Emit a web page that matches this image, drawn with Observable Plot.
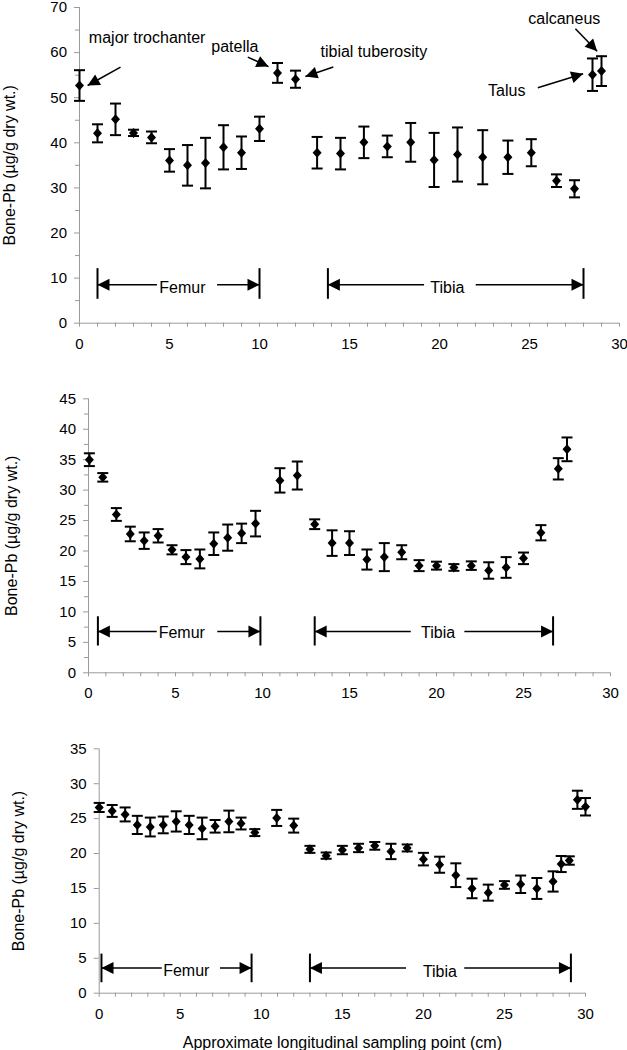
<!DOCTYPE html>
<html><head><meta charset="utf-8">
<script src="https://cdn.jsdelivr.net/npm/d3@7"></script>
<script src="https://cdn.jsdelivr.net/npm/@observablehq/plot@0.6"></script>
<style>
body{margin:0;background:#fff}
#chart svg{display:block}
</style>
</head><body><div id="chart"></div>
<script>
// ---------- data ----------
// Panel 1
const p1x = [0, 1, 2, 3, 4, 5, 6, 7, 8, 9, 10, 11, 12, 13.2, 14.5, 15.8, 17.1, 18.4, 19.7, 21.0, 22.4, 23.8, 25.1, 26.5, 27.5, 28.5, 29.0];
const p1y = [52.7, 42.1, 45.2, 42.2, 41.2, 36.1, 35.0, 35.5, 39.0, 37.8, 43.1, 55.5, 54.1, 37.8, 37.6, 40.1, 39.2, 40.1, 36.2, 37.4, 36.8, 36.8, 37.8, 31.6, 29.8, 55.1, 55.9];
const p1e = [3.4, 2.0, 3.5, 0.7, 1.3, 2.5, 4.5, 5.6, 4.9, 3.6, 2.7, 2.2, 1.9, 3.5, 3.5, 3.5, 2.4, 4.3, 6.0, 6.0, 6.0, 3.7, 3.0, 1.4, 1.9, 3.6, 3.3];
// Panel 2
const p2x = [0.05, 0.82, 1.6, 2.4, 3.2, 4.0, 4.8, 5.6, 6.4, 7.2, 8.0, 8.8, 9.6, 11.0, 12.0, 13.0, 14.0, 15.0, 16.0, 17.0, 18.0, 19.0, 20.0, 21.0, 22.0, 23.0, 24.0, 25.0, 26.0, 27.0, 27.5];
const p2y = [35.0, 32.1, 26.0, 22.8, 21.7, 22.5, 20.2, 19.0, 18.7, 21.2, 22.2, 22.9, 24.5, 31.6, 32.4, 24.4, 21.3, 21.3, 18.6, 19.0, 19.8, 17.6, 17.6, 17.3, 17.6, 16.8, 17.3, 18.8, 23.0, 33.5, 36.7];
const p2e = [1.05, 0.7, 1.05, 1.2, 1.35, 1.1, 0.75, 1.15, 1.55, 1.85, 2.15, 1.6, 2.1, 2.0, 2.3, 0.8, 2.1, 1.95, 1.65, 2.3, 1.15, 0.9, 0.65, 0.55, 0.7, 1.35, 1.7, 0.95, 1.25, 1.75, 1.95];
// Panel 3
const p3x = [0, 0.8, 1.6, 2.35, 3.15, 3.95, 4.75, 5.55, 6.35, 7.15, 8.0, 8.75, 9.6, 10.95, 12.0, 13.0, 14.0, 15.0, 16.0, 17.0, 18.0, 19.0, 20.0, 21.0, 22.0, 23.0, 24.0, 25.0, 26.0, 27.0, 28.0, 28.5, 29.0, 29.5, 30.0];
const p3y = [26.6, 26.1, 25.6, 24.1, 23.8, 24.1, 24.6, 24.1, 23.6, 23.9, 24.6, 24.3, 23.0, 25.1, 24.0, 20.6, 19.7, 20.5, 20.8, 21.1, 20.3, 20.8, 19.2, 18.4, 16.9, 15.0, 14.4, 15.5, 15.6, 15.0, 16.0, 18.5, 19.0, 27.7, 26.7];
const p3e = [0.65, 0.85, 1.0, 1.3, 1.35, 1.2, 1.45, 1.3, 1.55, 0.9, 1.55, 0.85, 0.5, 1.15, 1.0, 0.5, 0.45, 0.6, 0.6, 0.55, 1.1, 0.5, 0.9, 1.15, 1.7, 1.4, 1.15, 0.55, 1.25, 1.5, 1.45, 1.15, 0.6, 1.3, 1.25];

// ticks
const xMajor = [0, 5, 10, 15, 20, 25, 30];
const xMinor = [1,2,3,4,6,7,8,9,11,12,13,14,16,17,18,19,21,22,23,24,26,27,28,29];
const y1Major = [0, 10, 20, 30, 40, 50, 60, 70];
const y1Minor = [5, 15, 25, 35, 45, 55, 65];
const y2Major = [0, 5, 10, 15, 20, 25, 30, 35, 40, 45];
const y2Minor = [2.5, 7.5, 12.5, 17.5, 22.5, 27.5, 32.5, 37.5, 42.5];
const y3Major = [0, 5, 10, 15, 20, 25, 30, 35];

// texts
const yTitle = "Bone-Pb (µg/g dry wt.)";
const xTitle = "Approximate longitudinal sampling point (cm)";

// bone spans: start, end, arrow level, bar bottom/top, label, label pos, gap edges
const spans1 = [
  {x1: 1.0, x2: 10.0, y: 8.5, b1: 5.3, b2: 12.1, label: "Femur", lx: 5.72, ly: 7.8, g1: 4.33, g2: 7.67},
  {x1: 13.8, x2: 28.0, y: 8.5, b1: 5.3, b2: 12.1, label: "Tibia", lx: 20.44, ly: 7.8, g1: 19.17, g2: 22.04}
];
const spans2 = [
  {x1: 0.54, x2: 9.88, y: 6.8, b1: 4.4, b2: 9.2, label: "Femur", lx: 5.36, ly: 6.5, g1: 3.95, g2: 7.43},
  {x1: 13.0, x2: 26.7, y: 6.8, b1: 4.4, b2: 9.2, label: "Tibia", lx: 20.09, ly: 6.5, g1: 18.55, g2: 21.63}
];
const spans3 = [
  {x1: 0.14, x2: 9.4, y: 3.6, b1: 1.5, b2: 5.6, label: "Femur", lx: 5.37, ly: 3.2, g1: 3.89, g2: 7.48},
  {x1: 13.0, x2: 29.1, y: 3.6, b1: 1.5, b2: 5.6, label: "Tibia", lx: 21.02, ly: 3.1, g1: 18.96, g2: 22.55}
];
// panel 1 annotations
const notes1 = [
  {text: "major trochanter", x: 0.52, y: 63.2},
  {text: "patella", x: 7.32, y: 61.2},
  {text: "tibial tuberosity", x: 13.39, y: 60.1},
  {text: "calcaneus", x: 24.93, y: 67.4},
  {text: "Talus", x: 22.7, y: 51.6}
];
const arrows1 = [
  {x1: 2.28, y1: 56.8, x2: 0.45, y2: 52.7},
  {x1: 9.35, y1: 59.0, x2: 10.5, y2: 56.9},
  {x1: 14.1, y1: 56.8, x2: 12.55, y2: 54.7},
  {x1: 27.55, y1: 65.3, x2: 28.76, y2: 60.3},
  {x1: 25.46, y1: 52.2, x2: 27.98, y2: 55.3}
];

// ---------- drawing ----------
const W = 627;
const FONT = "'Liberation Sans', Arial, sans-serif";
const AXIS = "#9a9a9a";

const diamond = {draw(c){ c.moveTo(0,-5); c.lineTo(4.5,0); c.lineTo(0,5); c.lineTo(-4.5,0); c.closePath(); }};
const cap = {draw(c){ c.moveTo(-5.5,0); c.lineTo(5.5,0); }};
const head = {draw(c){ c.moveTo(0,0); c.lineTo(-6,12); c.lineTo(6,12); c.closePath(); }};

function panel(o) {
  const rows = o.xs.map((x, i) => ({x, y: o.ys[i], lo: o.ys[i] - o.es[i], hi: o.ys[i] + o.es[i]}));
  const sx = d3.scaleLinear([0, 30], [o.ml, W - o.mr]);
  const sy = d3.scaleLinear([0, o.yMax], [o.h - o.mb, o.mt]);
  const marks = [
    Plot.ruleY([0], {stroke: AXIS}),
    Plot.ruleX([0], {stroke: AXIS}),
    Plot.axisX({ticks: xMajor, tickSize: 4, tickPadding: 11, stroke: AXIS, fill: "black", fontSize: 15, label: null}),
    Plot.axisX({ticks: xMinor, tickSize: 4, stroke: AXIS, tickFormat: () => "", label: null}),
    Plot.axisY({ticks: o.yMajor, tickSize: 5, tickPadding: 7.5, stroke: AXIS, fill: "black", fontSize: 15, label: null}),
    // y title (16px)
    Plot.axisY({ticks: [], tickSize: 0, fill: "black", fontSize: 16,
      label: yTitle, labelAnchor: "center", labelOffset: o.lo, labelArrow: false})
  ];
  if (o.xLabel) marks.push(Plot.axisX({ticks: [], tickSize: 0, fill: "black", fontSize: 16,
      label: o.xLabel, labelAnchor: "center", labelArrow: false, dx: -7}));
  if (o.yMinor) marks.push(Plot.axisY({ticks: o.yMinor, tickSize: 4, stroke: AXIS, tickFormat: () => "", label: null}));
  marks.push(
    Plot.ruleX(rows, {x: "x", y1: "lo", y2: "hi", stroke: "black", strokeWidth: 2}),
    Plot.dot(rows, {x: "x", y: "lo", symbol: cap, r: 5, stroke: "black", strokeWidth: 2, fill: "none"}),
    Plot.dot(rows, {x: "x", y: "hi", symbol: cap, r: 5, stroke: "black", strokeWidth: 2, fill: "none"}),
    Plot.dot(rows, {x: "x", y: "y", symbol: diamond, r: 5, fill: "black", stroke: "none"}),
    // bone spans
    Plot.ruleX(o.spans, {x: "x1", y1: "b1", y2: "b2", stroke: "black", strokeWidth: 2}),
    Plot.ruleX(o.spans, {x: "x2", y1: "b1", y2: "b2", stroke: "black", strokeWidth: 2}),
    Plot.ruleY(o.spans, {y: "y", x1: "x1", x2: "g1", stroke: "black", strokeWidth: 1.5}),
    Plot.ruleY(o.spans, {y: "y", x1: "g2", x2: "x2", stroke: "black", strokeWidth: 1.5}),
    Plot.dot(o.spans, {x: "x1", y: "y", symbol: head, r: 5, rotate: -90, fill: "black", stroke: "none"}),
    Plot.dot(o.spans, {x: "x2", y: "y", symbol: head, r: 5, rotate: 90, fill: "black", stroke: "none"}),
    Plot.text(o.spans, {x: "lx", y: "ly", text: "label", fontSize: 16, fill: "black"})
  );
  if (o.notes) {
    marks.push(
      Plot.text(o.notes, {x: "x", y: "y", text: "text", textAnchor: "start", fontSize: 16, fill: "black"}),
      Plot.link(o.arrows, {x1: "x1", y1: "y1", x2: "x2", y2: "y2", stroke: "black", strokeWidth: 1.5}),
      Plot.dot(o.arrows, {x: "x2", y: "y2", symbol: head, r: 5, fill: "black", stroke: "none",
        rotate: d => Math.atan2(sy(d.y2) - sy(d.y1), sx(d.x2) - sx(d.x1)) * 180 / Math.PI + 90})
    );
  }
  return Plot.plot({
    width: W, height: o.h,
    marginLeft: o.ml, marginRight: o.mr, marginTop: o.mt, marginBottom: o.mb,
    style: {fontFamily: FONT, fontSize: "16px", color: "black", background: "white", overflow: "visible"},
    x: {domain: [0, 30]},
    y: {domain: [0, o.yMax]},
    marks
  });
}

const chart = document.getElementById("chart");
chart.append(panel({xs: p1x, ys: p1y, es: p1e, yMax: 70, yMajor: y1Major, yMinor: y1Minor,
  h: 360, ml: 79, mr: 8, mt: 7, mb: 37.3, lo: 76, spans: spans1, notes: notes1, arrows: arrows1}));
chart.append(panel({xs: p2x, ys: p2y, es: p2e, yMax: 45, yMajor: y2Major, yMinor: y2Minor,
  h: 355, ml: 88, mr: 17, mt: 38.3, mb: 42.7, lo: 83, spans: spans2}));
chart.append(panel({xs: p3x, ys: p3y, es: p3e, yMax: 35, yMajor: y3Major, yMinor: null,
  h: 335, ml: 98.7, mr: 42, mt: 33.3, mb: 57.3, lo: 86.7, spans: spans3, xLabel: xTitle}));
</script>
</body></html>
